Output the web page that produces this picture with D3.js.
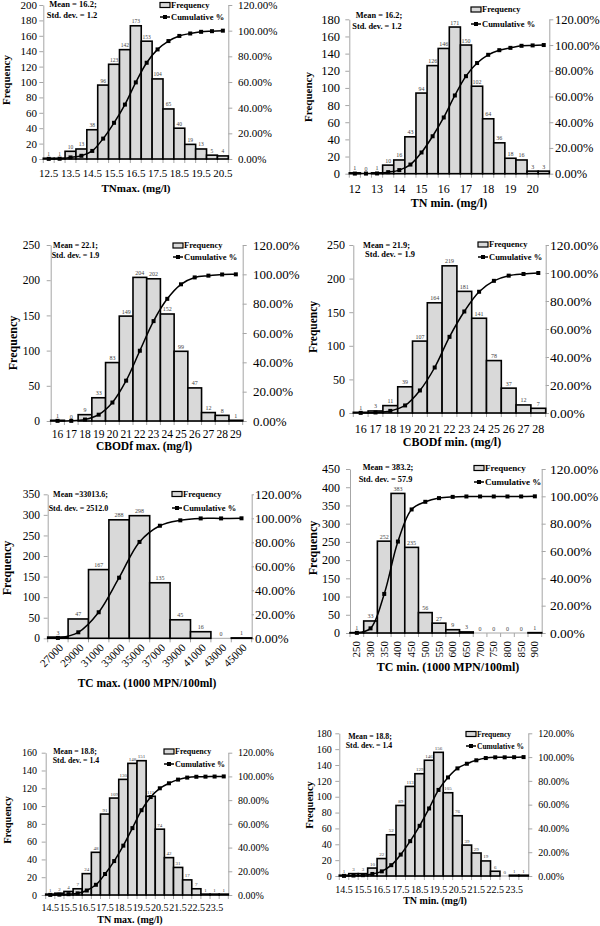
<!DOCTYPE html>
<html><head><meta charset="utf-8">
<script src="https://cdn.jsdelivr.net/npm/d3@7"></script>
<style>body{margin:0;background:#fff}svg{display:block}text{font-family:"Liberation Serif","Times New Roman",serif}</style>
</head><body><svg id="c" width="600" height="926"></svg>
<script>
// ---------------- DATA ----------------
const p1Categories = ["12.5","13","13.5","14","14.5","15","15.5","16","16.5","17","17.5","18","18.5","19","19.5","20","20.5"];
const p1Freq = [1,1,10,13,38,96,123,142,173,153,104,65,40,19,13,5,4];
const p1XTicks = ["12.5","13.5","14.5","15.5","16.5","17.5","18.5","19.5","20.5"];
const p1YTicks = [0,20,40,60,80,100,120,140,160,180,200];

const p2Categories = ["12","12.5","13","13.5","14","14.5","15","15.5","16","16.5","17","17.5","18","18.5","19","19.5","20","20.5"];
const p2Freq = [1,0,1,10,16,43,94,126,146,171,150,102,64,36,18,16,3,3];
const p2XTicks = ["12","13","14","15","16","17","18","19","20"];
const p2YTicks = [0,20,40,60,80,100,120,140,160,180];

const p3Categories = ["16","17","18","19","20","21","22","23","24","25","26","27","28","29"];
const p3Freq = [1,0,9,33,83,149,204,202,152,99,47,12,8,1];
const p3XTicks = p3Categories;
const p3YTicks = [0,50,100,150,200,250];

const p4Categories = ["16","17","18","19","20","21","22","23","24","25","26","27","28"];
const p4Freq = [1,3,11,39,107,164,219,181,141,78,37,12,7];
const p4XTicks = p4Categories;
const p4YTicks = [0,50,100,150,200,250];

const p5Categories = ["27000","29000","31000","33000","35000","37000","39000","41000","43000","45000"];
const p5Freq = [3,47,167,288,298,135,45,16,0,1];
const p5XTicks = p5Categories;
const p5YTicks = [0,50,100,150,200,250,300,350];

const p6Categories = ["250","300","350","400","450","500","550","600","650","700","750","800","850","900"];
const p6Freq = [1,33,252,383,235,56,27,9,3,0,0,0,0,1];
const p6XTicks = p6Categories;
const p6YTicks = [0,50,100,150,200,250,300,350,400,450];

const p7Categories = ["14.5","15","15.5","16","16.5","17","17.5","18","18.5","19","19.5","20","20.5","21","21.5","22","22.5","23","23.5","24"];
const p7Freq = [1,2,4,7,24,48,91,109,130,148,151,111,74,42,31,17,7,1,1,1];
const p7XTicks = ["14.5","15.5","16.5","17.5","18.5","19.5","20.5","21.5","22.5","23.5"];
const p7YTicks = [0,20,40,60,80,100,120,140,160];

const p8Categories = p7Categories;
const p8Freq = [1,3,3,10,22,52,89,113,129,146,156,105,76,39,29,19,6,0,1,1];
const p8XTicks = p7XTicks;
const p8YTicks = [0,20,40,60,80,100,120,140,160,180];

const pctTicks = [0,0.2,0.4,0.6,0.8,1.0,1.2];
const titles = ["TNmax. (mg/l)","TN min. (mg/l)","CBODf max. (mg/l)","CBODf min. (mg/l)","TC max. (1000 MPN/100ml)","TC min. (1000 MPN/100ml)","TN max. (mg/l)","TN min. (mg/l)"];
const meanTexts = ["Mean = 16.2;","Mean = 16.2;","Mean = 22.1;","Mean = 21.9;","Mean =33013.6;","Mean = 383.2;","Mean = 18.8;","Mean = 18.8;"];
const stdTexts = ["Std. dev. = 1.2","Std. dev. = 1.2","Std. dev. = 1.9","Std. dev. = 1.9","Std. dev. = 2512.0","Std. dev. = 57.9","Std. dev. = 1.4","Std. dev. = 1.4"];

// ---------------- LAYOUT ----------------
const layouts = [
{x0:43.3,x1:228.3,yTop:5,yBot:159,lLabX:37,rLabX:238,tickFs:11,rFs:11,xlabY:177,xFs:11,rot:0,titleX:136,titleY:192,titleFs:11,freqX:6,freqY:80,freqFs:11,meanX:73,meanY:7,stdX:72,stdY:18,meanFs:8.5,lx:160,ly1:5,ly2:17,legFs:8.5,barFs:5.5},
{x0:349.3,x1:549.3,yTop:19.3,yBot:173.7,lLabX:340,rLabX:555,tickFs:12.5,rFs:12.5,xlabY:192.5,xFs:12,rot:0,titleX:449,titleY:206.5,titleFs:12,freqX:308,freqY:97,freqFs:11,meanX:379,meanY:18,stdX:377,stdY:29,meanFs:8.3,lx:471,ly1:9.5,ly2:24,legFs:8.5,barFs:6},
{x0:50.7,x1:242.7,yTop:245,yBot:421,lLabX:40,rLabX:253,tickFs:11.5,rFs:13,xlabY:438,xFs:11.5,rot:0,titleX:144,titleY:449.5,titleFs:11.5,freqX:13,freqY:343,freqFs:12,meanX:75.5,meanY:248,stdX:75.5,stdY:258,meanFs:8,lx:173,ly1:245.5,ly2:257,legFs:8.5,barFs:6},
{x0:353.3,x1:545.7,yTop:245,yBot:413,lLabX:345,rLabX:550,tickFs:12,rFs:13.5,xlabY:433,xFs:12,rot:0,titleX:452,titleY:446,titleFs:12,freqX:313,freqY:327,freqFs:11.5,meanX:386.5,meanY:248,stdX:390,stdY:257,meanFs:8.4,lx:478,ly1:244.5,ly2:257,legFs:8.5,barFs:6},
{x0:47.7,x1:251.7,yTop:494.3,yBot:638.3,lLabX:40,rLabX:255,tickFs:11.5,rFs:13,rot:45,xFs:11,titleX:147,titleY:687,titleFs:11.5,freqX:7,freqY:568,freqFs:12,meanX:80.5,meanY:497,stdX:78.5,stdY:511,meanFs:8,lx:172,ly1:494,ly2:508,legFs:8.5,barFs:6},
{x0:350,x1:541.7,yTop:469,yBot:633,lLabX:340,rLabX:550,tickFs:12,rFs:13.5,rot:90,xFs:11,titleX:448,titleY:671,titleFs:12,freqX:313,freqY:548,freqFs:12,meanX:388,meanY:470,stdX:385.5,stdY:482,meanFs:8.3,lx:474,ly1:468,ly2:482,legFs:9,barFs:6},
{x0:45.7,x1:228.3,yTop:752.7,yBot:895,lLabX:37,rLabX:238,tickFs:10,rFs:10,xlabY:911,xFs:10,rot:0,titleX:130,titleY:923,titleFs:10,freqX:7,freqY:820,freqFs:10.5,meanX:75,meanY:754,stdX:76,stdY:763,meanFs:7.8,lx:164,ly1:751.5,ly2:764,legFs:8,barFs:5},
{x0:339.3,x1:528.3,yTop:733.3,yBot:876,lLabX:331.7,rLabX:538.3,tickFs:10,rFs:10,xlabY:893,xFs:10,rot:0,titleX:435,titleY:904,titleFs:10,freqX:309,freqY:805,freqFs:10.5,meanX:370,meanY:739,stdX:369,stdY:748,meanFs:7.8,lx:466,ly1:734,ly2:746,legFs:7.5,barFs:5}
];

const panels = [
 {cats:p1Categories,freq:p1Freq,xt:p1XTicks,yt:p1YTicks},
 {cats:p2Categories,freq:p2Freq,xt:p2XTicks,yt:p2YTicks},
 {cats:p3Categories,freq:p3Freq,xt:p3XTicks,yt:p3YTicks},
 {cats:p4Categories,freq:p4Freq,xt:p4XTicks,yt:p4YTicks},
 {cats:p5Categories,freq:p5Freq,xt:p5XTicks,yt:p5YTicks},
 {cats:p6Categories,freq:p6Freq,xt:p6XTicks,yt:p6YTicks},
 {cats:p7Categories,freq:p7Freq,xt:p7XTicks,yt:p7YTicks},
 {cats:p8Categories,freq:p8Freq,xt:p8XTicks,yt:p8YTicks}
];

const svg = d3.select("#c");
const AX = "#a6a6a6", BAR = "#d9d9d9";

function styleAxis(sel, fs){
  sel.select(".domain").attr("stroke", AX);
  sel.selectAll(".tick line").attr("stroke", AX);
  sel.selectAll(".tick text").attr("fill","#000").attr("font-size",fs).attr("font-family",'"Liberation Serif","Times New Roman",serif');
}

panels.forEach((p, i) => {
  const L = layouts[i];
  const g = svg.append("g");
  const yMax = p.yt[p.yt.length-1];
  const x = d3.scaleBand().domain(p.cats).range([L.x0, L.x1]).padding(0);
  const bw = x.bandwidth();
  const y = d3.scaleLinear().domain([0, yMax]).range([L.yBot, L.yTop]);
  const yr = d3.scaleLinear().domain([0, 1.2]).range([L.yBot, L.yTop]);

  const lGap = L.x0 - L.lLabX;
  const la = g.append("g").attr("transform",`translate(${L.x0},0)`)
    .call(d3.axisLeft(y).tickValues(p.yt).tickSize(4).tickSizeOuter(0).tickPadding(lGap-4).tickFormat(d3.format("d")));
  styleAxis(la, L.tickFs);
  const rGap = L.rLabX - L.x1;
  const rts = Math.min(4, Math.max(2, rGap-1));
  const ra = g.append("g").attr("transform",`translate(${L.x1},0)`)
    .call(d3.axisRight(yr).tickValues(pctTicks).tickSize(rts).tickSizeOuter(0).tickPadding(rGap-rts).tickFormat(d3.format(".2%")));
  styleAxis(ra, L.rFs);

  g.append("line").attr("x1",L.x0).attr("x2",L.x1).attr("y1",L.yBot).attr("y2",L.yBot).attr("stroke",AX);
  const bounds = p.cats.map(c => x(c)).concat([L.x1]);
  g.selectAll(".bt").data(bounds).join("line")
    .attr("x1",d=>d).attr("x2",d=>d).attr("y1",L.yBot).attr("y2",L.yBot+4).attr("stroke",AX);

  const data = p.cats.map((c,k)=>({c, v:p.freq[k]}));
  g.selectAll(".bar").data(data.filter(d=>d.v>0)).join("rect")
    .attr("x",d=>x(d.c)).attr("y",d=>y(d.v)).attr("width",bw).attr("height",d=>L.yBot-y(d.v))
    .attr("fill",BAR).attr("stroke","#000").attr("stroke-width",1.6);
  g.selectAll(".bl").data(data).join("text")
    .attr("x",d=>x(d.c)+bw/2).attr("y",d=>y(d.v)-2.5).attr("text-anchor","middle")
    .attr("font-size",L.barFs).attr("fill","#444").text(d=>d.v);

  const total = d3.sum(p.freq);
  const cum = Array.from(d3.cumsum(p.freq)).map((s,k)=>({c:p.cats[k], v:s/total}));
  const line = d3.line().x(d=>x(d.c)+bw/2).y(d=>yr(d.v)).curve(d3.curveCatmullRom);
  g.append("path").attr("d",line(cum)).attr("fill","none").attr("stroke","#000").attr("stroke-width",1.5);
  g.selectAll(".mk").data(cum).join("rect")
    .attr("x",d=>x(d.c)+bw/2-2).attr("y",d=>yr(d.v)-2).attr("width",4).attr("height",4).attr("fill","#000");

  if (L.rot === 45) {
    g.selectAll(".xl").data(p.xt).join("text")
      .attr("transform",d=>`translate(${x(d)+bw/2+6},${L.yBot+10}) rotate(-45)`)
      .attr("text-anchor","end").attr("font-size",L.xFs).text(d=>d);
  } else if (L.rot === 90) {
    g.selectAll(".xl").data(p.xt).join("text")
      .attr("transform",d=>`translate(${x(d)+bw/2+3.5},${L.yBot+8}) rotate(-90)`)
      .attr("text-anchor","end").attr("font-size",L.xFs).text(d=>d);
  } else {
    g.selectAll(".xl").data(p.xt).join("text")
      .attr("x",d=>x(d)+bw/2).attr("y",L.xlabY).attr("text-anchor","middle")
      .attr("font-size",L.xFs).text(d=>d);
  }

  g.append("text").attr("x",L.titleX).attr("y",L.titleY).attr("text-anchor","middle")
    .attr("font-size",L.titleFs).attr("font-weight","bold").text(titles[i]);
  g.append("text").attr("transform",`translate(${L.freqX},${L.freqY}) rotate(-90)`)
    .attr("text-anchor","middle").attr("dy","0.35em")
    .attr("font-size",L.freqFs).attr("font-weight","bold").text("Frequency");

  g.append("text").attr("x",L.meanX).attr("y",L.meanY).attr("text-anchor","middle")
    .attr("font-size",L.meanFs).attr("font-weight","bold").text(meanTexts[i]);
  g.append("text").attr("x",L.stdX).attr("y",L.stdY).attr("text-anchor","middle")
    .attr("font-size",L.meanFs).attr("font-weight","bold").text(stdTexts[i]);

  g.append("rect").attr("x",L.lx).attr("y",L.ly1-2.5).attr("width",10).attr("height",5)
    .attr("fill",BAR).attr("stroke","#000").attr("stroke-width",1.2);
  g.append("text").attr("x",L.lx+11).attr("y",L.ly1).attr("dy","0.35em")
    .attr("font-size",L.legFs).attr("font-weight","bold").text("Frequency");
  g.append("line").attr("x1",L.lx).attr("x2",L.lx+10).attr("y1",L.ly2).attr("y2",L.ly2)
    .attr("stroke","#000").attr("stroke-width",1.5);
  g.append("rect").attr("x",L.lx+3).attr("y",L.ly2-2).attr("width",4).attr("height",4).attr("fill","#000");
  g.append("text").attr("x",L.lx+11).attr("y",L.ly2).attr("dy","0.35em")
    .attr("font-size",L.legFs).attr("font-weight","bold").text("Cumulative %");
});
</script>
</body></html>
